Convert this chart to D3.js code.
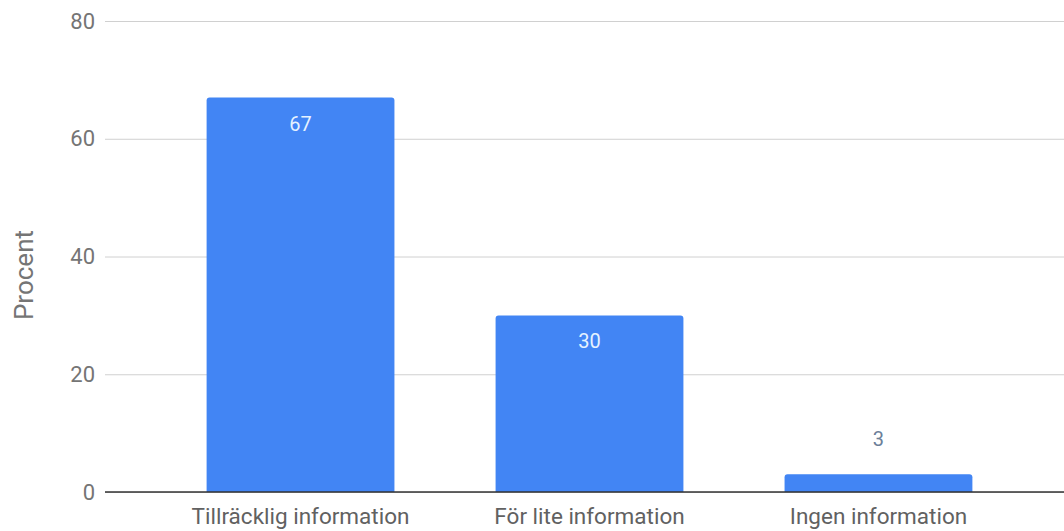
<!DOCTYPE html>
<html>
<head>
<meta charset="utf-8">
<script src="https://cdn.jsdelivr.net/npm/d3@7"></script>
<style>
  body { margin: 0; background: #fff; }
  text { font-family: Roboto, "Noto Sans", sans-serif; }
</style>
</head>
<body>
<div id="chart"></div>
<script>
// data
var categories = ["Tillräcklig information", "För lite information", "Ingen information"];
var values = [67, 30, 3];
var yTicks = [0, 20, 40, 60, 80];

var width = 1064, height = 531;
var margin = { top: 21, right: 0, bottom: 39, left: 105 };

var svg = d3.select("#chart").append("svg")
    .attr("width", width)
    .attr("height", height);

var x = d3.scaleBand()
    .domain(categories)
    .range([margin.left + 10, width - margin.right])
    .paddingInner(0.35)
    .paddingOuter(0.317);

var y = d3.scaleLinear()
    .domain([0, 80])
    .range([height - margin.bottom, margin.top]);

// gridlines + tick labels
var yAxis = svg.append("g")
    .attr("transform", "translate(" + margin.left + ",0)")
    .call(d3.axisLeft(y).tickValues(yTicks).tickSize(-(width - margin.left - margin.right)).tickPadding(10));
yAxis.select(".domain").remove();
yAxis.selectAll(".tick line").attr("stroke", "#d0d0d0");
yAxis.selectAll(".tick text")
    .attr("fill", "#757575")
    .style("font-size", "22px");

// y title
svg.append("text")
    .attr("transform", "translate(33,275) rotate(-90)")
    .attr("text-anchor", "middle")
    .attr("fill", "#757575")
    .style("font-size", "26px")
    .text("Procent");

// bars (rounded top corners)
function barPath(d, i) {
    var x0 = x(categories[i]), w = x.bandwidth();
    var yTop = y(d), yBase = y(0), r = Math.min(3, (yBase - yTop) / 2);
    return "M" + x0 + "," + yBase +
        "V" + (yTop + r) +
        "Q" + x0 + "," + yTop + " " + (x0 + r) + "," + yTop +
        "H" + (x0 + w - r) +
        "Q" + (x0 + w) + "," + yTop + " " + (x0 + w) + "," + (yTop + r) +
        "V" + yBase + "Z";
}
svg.selectAll(".bar")
    .data(values)
    .enter().append("path")
    .attr("class", "bar")
    .attr("d", barPath)
    .attr("fill", "#4285f4");

// baseline
svg.append("line")
    .attr("x1", margin.left).attr("x2", width)
    .attr("y1", y(0)).attr("y2", y(0))
    .attr("stroke", "#333")
    .attr("stroke-width", 1.3);

// value labels: inside bar if tall enough, above otherwise
svg.selectAll(".val")
    .data(values)
    .enter().append("text")
    .attr("class", "val")
    .attr("x", (d, i) => x(categories[i]) + x.bandwidth() / 2)
    .attr("y", d => (y(0) - y(d) > 40) ? y(d) + 33 : y(d) - 28)
    .attr("text-anchor", "middle")
    .attr("fill", d => (y(0) - y(d) > 40) ? "#e6f2ff" : "#6c7f99")
    .style("font-size", "20px")
    .text(d => d);

// category labels
svg.selectAll(".cat")
    .data(categories)
    .enter().append("text")
    .attr("class", "cat")
    .attr("x", d => x(d) + x.bandwidth() / 2)
    .attr("y", 524)
    .attr("text-anchor", "middle")
    .attr("fill", "#616161")
    .style("font-size", "22.5px")
    .text(d => d);
</script>
</body>
</html>
